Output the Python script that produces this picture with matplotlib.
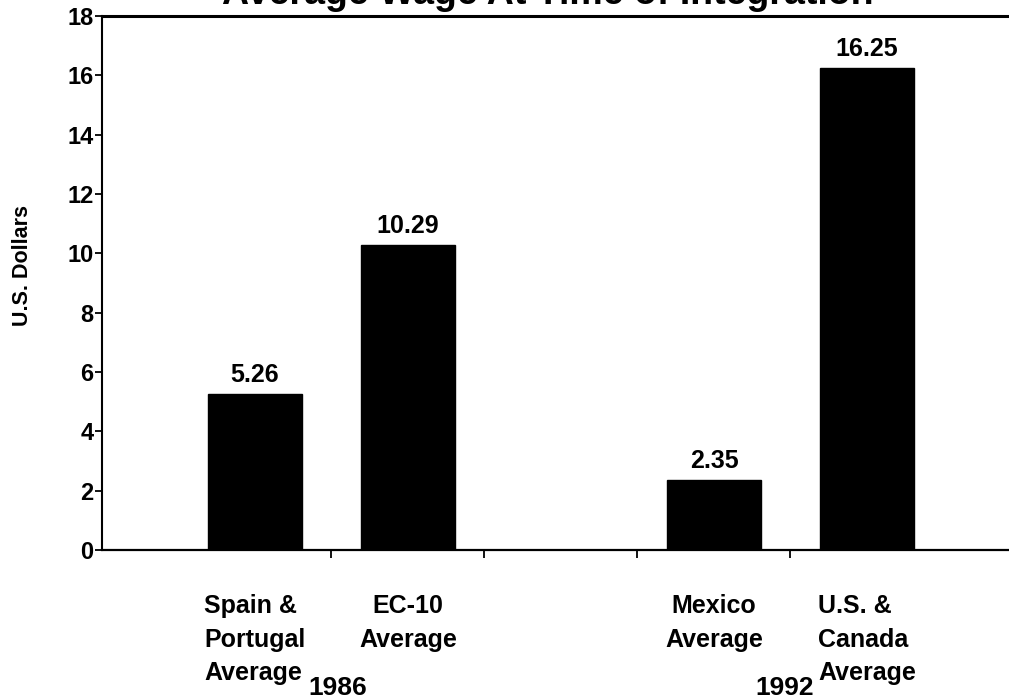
import matplotlib.pyplot as plt
import numpy as np

plt.rcParams['font.family'] = ['Liberation Sans', 'DejaVu Sans']
plt.rcParams['font.weight'] = 'bold'

# average hourly wage (US$) when the regions were integrated
labels = ['Spain &\nPortugal\nAverage', 'EC-10\nAverage',
          'Mexico\nAverage', 'U.S. &\nCanada\nAverage']
wages = [5.26, 10.29, 2.35, 16.25]
years = ['1986', '1992']
slots = [0, 1, 3, 4]        # slot 2 left empty between the two groups
year_pos = [0.54, 3.46]

fig = plt.figure(figsize=(10.09, 7), dpi=100)
ax = fig.add_axes([102 / 1009, 150 / 700, 918 / 1009, 534 / 700])

ax.bar(slots, wages, width=0.61, color='black', edgecolor='black')
for x, v in zip(slots, wages):
    ax.annotate('%.2f' % v, (x, v), xytext=(0, 5), textcoords='offset points',
                ha='center', va='bottom', fontsize=18)

ax.set_xlim(-1, 5)
ax.set_ylim(0, 18)
ax.set_yticks(np.arange(0, 19, 2))
ax.tick_params(axis='y', labelsize=17, length=5, width=1.3, pad=1)

# category names under the bars, tick marks on the slot boundaries
ax.set_xticks(slots)
ax.set_xticklabels(labels, fontsize=18, linespacing=1.5)
for t, lab in zip(ax.get_xticklabels(), labels):
    t.set_multialignment('left' if lab.count('\n') == 2 else 'center')
ax.tick_params(axis='x', which='major', length=0, pad=32)
ax.set_xticks([0.5, 1.5, 2.5, 3.5], minor=True)
ax.tick_params(axis='x', which='minor', length=6, width=1.3)

for x, yr in zip(year_pos, years):
    ax.text(x, -0.2715, yr, transform=ax.get_xaxis_transform(),
            ha='center', va='baseline', fontsize=19)

ax.spines['right'].set_visible(False)
ax.spines['left'].set_linewidth(1.5)
ax.spines['bottom'].set_linewidth(1.6)
ax.spines['top'].set_linewidth(2.2)

fig.text(23 / 1009, 1 - 265 / 700, 'U.S. Dollars', rotation=90,
         ha='center', va='center', fontsize=15.5)
fig.text(548 / 1009, 1 - 4 / 700, 'Average Wage At Time of Integration',
         ha='center', va='baseline', fontsize=27, fontweight='bold')

plt.savefig('out.png', dpi=100)
